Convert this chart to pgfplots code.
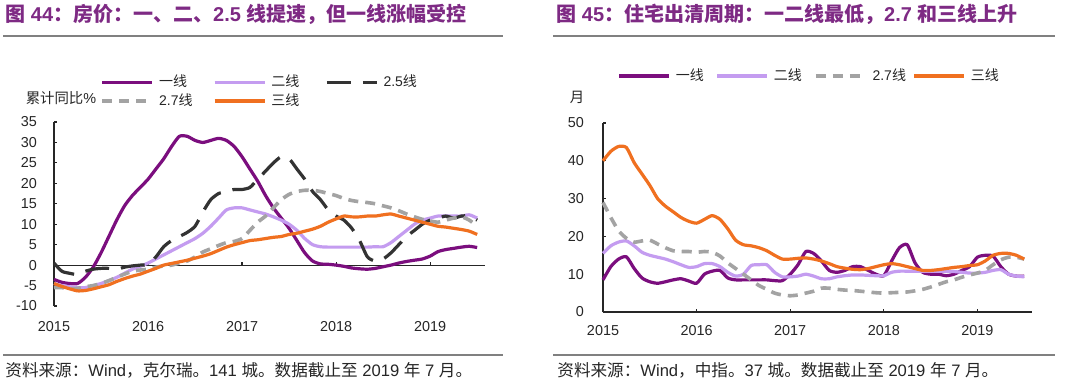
\documentclass[border=0pt]{standalone}
\usepackage{pgfplots}
\pgfplotsset{compat=1.18}
\usepackage{pgfplotstable}
\usepackage{fontspec}
\setmainfont{Liberation Sans}
\newfontfamily\cjk{Noto Sans CJK SC}
\definecolor{cYi}{HTML}{7B0E7E}
\definecolor{cEr}{HTML}{C49CF0}
\definecolor{cE25}{HTML}{333333}
\definecolor{cE27}{HTML}{A3A3A3}
\definecolor{cSan}{HTML}{F07020}
\definecolor{cTitle}{HTML}{7E2A84}
\definecolor{cRule}{HTML}{808080}

\pgfplotstableread{
m yi er e25 e27 san
0 -3.5 -4.5 0.5 -5.5 -4.5
1 -4.2 -5 -1.5 -5.5 -5.2
2 -4.5 -5.3 -2 -5.8 -5.8
3 -4.5 -5.5 -2.3 -5.7 -6.3
4 -3 -5.5 -1.5 -5.3 -6.2
5 -0.5 -5 -1 -5 -5.8
6 3 -4.5 -0.8 -4.5 -5.3
7 7 -3.8 -0.8 -3.8 -4.8
8 11 -3 -1 -3 -4
9 14.5 -2 -0.5 -2.2 -3.3
10 17 -1 -0.2 -1.5 -2.7
11 19 -0.3 0 -1.2 -2.2
12 21 0.5 0.2 -1 -1.5
13 23.5 1.5 2 -0.5 -0.8
14 26 2.5 4.5 -0.2 0
15 29 3.5 6 0 0.4
16 31.5 4.5 7 0.5 0.8
17 31.5 5.5 8 1 1.2
18 30.5 6.5 9.5 2 1.7
19 30 7.8 13 3.2 2.2
20 30.5 9.5 16 4 2.8
21 31 11.5 17.5 4.8 3.6
22 30.5 13.5 18 5.5 4.4
23 29 14 18.5 5.8 5
24 26.5 14 18.5 6.5 5.5
25 23.5 13.5 19 8.5 6
26 20.5 13 21 10.5 6.2
27 17 12.5 23 12 6.5
28 14 11.8 25 14 6.8
29 11.5 11 26.5 16 7
30 9 10 26 17.3 7.5
31 6 8.5 23.5 18 7.8
32 3 6.5 21 18.3 8.3
33 1 5 18 18.3 8.8
34 0.3 4.5 16 18 9.5
35 0.2 4.4 13.5 17.5 10.5
36 0 4.4 12 17 11.3
37 -0.3 4.4 11 16.3 12
38 -0.7 4.4 9 15.8 11.8
39 -0.9 4.4 6 15.5 11.8
40 -1 4.4 2 15.3 12
41 -0.8 4.5 1 15 12
42 -0.4 4.5 1.5 14.5 12.3
43 0 5.5 3 14 12.5
44 0.5 7 5 13.3 12
45 0.9 8.5 7 12.5 11.5
46 1.2 10 8.5 11.8 11
47 1.5 11 10 11.2 10.5
48 2.2 11.5 11 10.8 10
49 3.3 12 11.5 10.5 9.5
50 3.8 12 12 11 9.3
51 4.1 12 11.5 11.5 9
52 4.4 12 12 11.8 8.7
53 4.6 12.3 12 11 8.3
54 4.3 11.5 11 9.5 7.5
}\leftdata

\pgfplotstableread{
m yi er e27 san
0 8.5 15.5 29 40
1 12 17.5 25 42.5
2 14 18.5 21.5 43.8
3 14.6 18.8 19.5 43.5
4 11.5 17.5 18.5 39.5
5 9 15.8 18.8 36.5
6 8 15 19 33.5
7 7.6 14.5 18 30
8 8 14 17 28
9 8.5 13.3 16.2 26.5
10 8.8 12.5 16 25
11 8.2 11.8 16 24
12 7.6 12 15.8 23.5
13 10 12.8 16 24.5
14 10.8 12.8 15.8 25.5
15 11 12 14.8 24.5
16 9 10.5 13 22
17 8.5 9.5 11.5 19
18 8.5 10 10 17.8
19 8.5 12.3 8.5 17.5
20 8.5 12.5 7 17
21 8.5 12.5 6 16.2
22 8.3 10.5 5 15
23 8.3 9.3 4.5 14
24 10 9.3 4.3 14
25 12.5 9.5 4.5 14.2
26 16 10 5 14.3
27 15.5 9.5 5.5 14
28 13.5 8.8 6.3 13.5
29 11 8.8 6.3 12.8
30 10.5 9.3 6 12
31 11 9.6 5.8 11.6
32 12 9.8 5.7 11.3
33 12 9.8 5.5 11.2
34 11 9.7 5.3 11.5
35 10 9.6 5.1 12
36 9.6 9.6 5 12.5
37 13.5 10.5 5.1 12.8
38 17 10.8 5.2 12.5
39 17.8 10.8 5.3 12
40 13 10.8 5.6 11.5
41 10.5 10.8 6 11
42 10 10.8 6.6 11
43 10 10.8 7.3 11.2
44 9.6 10.8 8 11.5
45 10 10.7 8.5 11.8
46 11 10.5 9.2 12
47 12 10.3 9.8 12.3
48 14.5 10.3 10.3 12.5
49 15 10.5 11 13.5
50 14.8 11 12.5 15
51 12 11.2 13.8 15.5
52 10 10 14.5 15.5
53 9.5 9.5 14.5 15
54 9.5 9.3 14 14
}\rightdata

\pgfplotsset{
  base/.style={
    scale only axis, anchor=south west, clip=false,
    xmin=0, xmax=55,
    xtick={0,12,24,36,48}, xticklabels={2015,2016,2017,2018,2019},
    axis y line*=left, axis x line*=bottom,
    tick align=inside, major tick length=1.5pt,
    axis line style={line width=0.6pt, black!85},
    tick style={line width=0.6pt, black!85},
    tick label style={font=\fontsize{7.2}{8.6}\selectfont, text=black!85},
    /pgf/number format/assume math mode=true,
    legend style={draw=none, fill=none, inner sep=0pt, anchor=north west,
      font=\fontsize{7}{8.4}\selectfont, text=black!85,
      nodes={inner sep=1pt},
      /tikz/every odd column/.append style={column sep=1.5pt}},
    legend image code/.code={\draw[#1] (0pt,0pt) -- (25pt,0pt);},
    every axis plot/.append style={line width=1.6pt, line join=round, smooth, tension=0.4},
  },
}

\begin{document}
\begin{tikzpicture}[x=1pt,y=1pt]
\path[fill=white] (0,0) rectangle (540,193);

% titles
\node[anchor=base west, inner sep=0pt, text=cTitle, font=\fontsize{10}{12}\selectfont\bfseries] at (2.5,182)
  {{\cjk 图} 44{\cjk ：房价：一、二、}2.5 {\cjk 线提速，但一线涨幅受控}};
\node[anchor=base west, inner sep=0pt, text=cTitle, font=\fontsize{10}{12}\selectfont\bfseries] at (278,182)
  {{\cjk 图} 45{\cjk ：住宅出清周期：一二线最低，}2.7 {\cjk 和三线上升}};
\draw[cRule, line width=0.9pt] (1.5,175) -- (251.5,175);
\draw[cRule, line width=0.9pt] (276.5,175) -- (527.5,175);

% footers
\draw[cRule, line width=0.9pt] (1.5,15.5) -- (251.5,15.5);
\draw[cRule, line width=0.9pt] (276.5,15.5) -- (527.5,15.5);
\node[anchor=base west, inner sep=0pt, font=\fontsize{8.3}{10}\selectfont, text=black!85] at (2.5,5)
  {{\cjk 资料来源：}Wind{\cjk ，克尔瑞。}141 {\cjk 城。数据截止至} 2019 {\cjk 年} 7 {\cjk 月。}};
\node[anchor=base west, inner sep=0pt, font=\fontsize{8.3}{10}\selectfont, text=black!85] at (278.5,5)
  {{\cjk 资料来源：}Wind{\cjk ，中指。}37 {\cjk 城。数据截止至} 2019 {\cjk 年} 7 {\cjk 月。}};

% axis labels
\node[font=\fontsize{7.2}{8.6}\selectfont\cjk, text=black!85] at (30.5,144) {累计同比{\rmfamily\%}};
\node[font=\fontsize{7.2}{8.6}\selectfont\cjk, text=black!85] at (288.5,144.5) {月};

% left panel
\begin{axis}[base, at={(27pt,40pt)}, width=215.5pt, height=92pt,
  ymin=-10, ymax=35, ytick={-10,-5,...,35},
  x axis line style={draw=none}, xtick style={draw=none},
  xticklabel style={yshift=-4pt}, yticklabel style={xshift=-5pt},
  legend columns=3,
  legend style={at={(0.107,1.27)}, /tikz/every even column/.append style={column sep=6pt}},
]
\draw[line width=0.6pt, black!85] (axis cs:0,0) -- (axis cs:55,0);
\pgfplotsinvokeforeach{12,24,36,48}{\draw[line width=0.6pt, black!85] (axis cs:#1,0) -- ([yshift=1.5pt]axis cs:#1,0);}
\addplot[cYi] table[x=m,y=yi] {\leftdata};
\addlegendentry{\makebox[20pt][l]{\cjk 一线}}
\addplot[cEr] table[x=m,y=er] {\leftdata};
\addlegendentry{\makebox[20pt][l]{\cjk 二线}}
\addplot[cE25, dash pattern=on 12pt off 6pt] table[x=m,y=e25] {\leftdata};
\addlegendentry{\makebox[20pt][l]{2.5\cjk 线}}
\addplot[cE27, line width=1.8pt, dash pattern=on 5pt off 3.5pt] table[x=m,y=e27] {\leftdata};
\addlegendentry{\makebox[20pt][l]{2.7\cjk 线}}
\addplot[cSan] table[x=m,y=san] {\leftdata};
\addlegendentry{\makebox[20pt][l]{\cjk 三线}}
\end{axis}

% right panel
\begin{axis}[base, at={(301.5pt,37pt)}, width=214.5pt, height=94.5pt,
  ymin=0, ymax=50, ytick={0,10,...,50},
  xticklabel style={yshift=-3pt}, yticklabel style={xshift=-6pt},
  legend columns=4,
  legend style={at={(0.033,1.3)}, /tikz/every even column/.append style={column sep=3pt}},
]
\addplot[cYi] table[x=m,y=yi] {\rightdata};
\addlegendentry{\makebox[16pt][l]{\cjk 一线}}
\addplot[cEr] table[x=m,y=er] {\rightdata};
\addlegendentry{\makebox[16pt][l]{\cjk 二线}}
\addplot[cE27, line width=1.8pt, dash pattern=on 5pt off 3.5pt] table[x=m,y=e27] {\rightdata};
\addlegendentry{\makebox[16pt][l]{2.7\cjk 线}}
\addplot[cSan] table[x=m,y=san] {\rightdata};
\addlegendentry{\makebox[16pt][l]{\cjk 三线}}
\end{axis}
\end{tikzpicture}
\end{document}
